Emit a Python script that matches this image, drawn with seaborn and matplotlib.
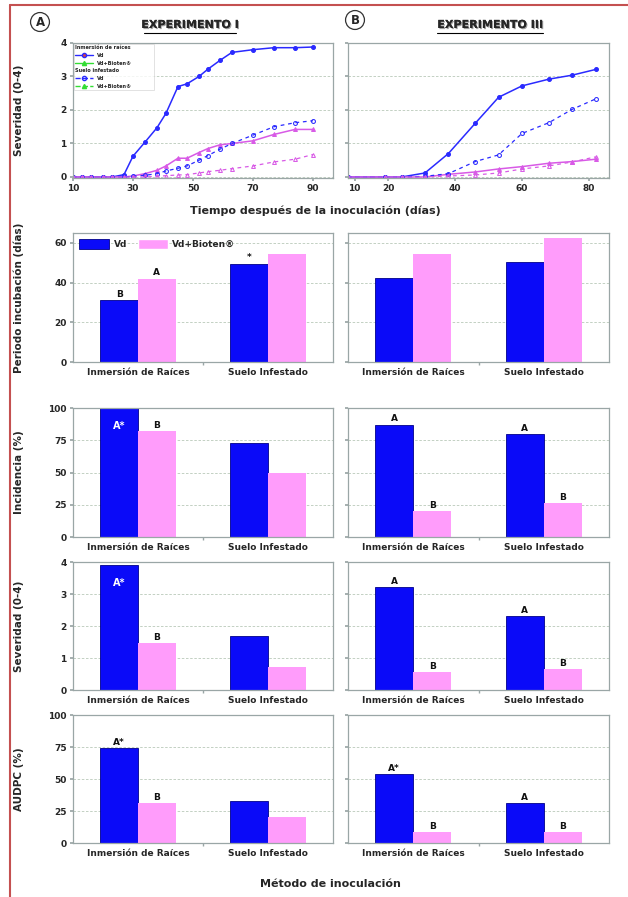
import matplotlib
matplotlib.use("Agg")
import matplotlib.pyplot as plt
import matplotlib.patheffects as pe
from matplotlib.lines import Line2D
from matplotlib.patches import Patch
import seaborn as sns
import pandas as pd

sns.set_theme(style="white")
plt.rcParams['font.family'] = ['DejaVu Sans']
plt.rcParams['font.weight'] = 'bold'

# ---- curvas de severidad (fila 1) ----
dias_I = [10, 13, 16, 20, 23, 27, 30, 34, 38, 41, 45, 48, 52, 55, 59, 63, 70, 77, 84, 90]
raiz_vd_I = [0, 0, 0, 0, 0, 0.07, 0.62, 1.04, 1.47, 1.9, 2.7, 2.78, 3.0, 3.22, 3.48, 3.72, 3.8, 3.86, 3.86, 3.88]
raiz_bt_I = [0, 0, 0, 0, 0, 0, 0.03, 0.1, 0.2, 0.33, 0.56, 0.56, 0.73, 0.85, 0.96, 1.0, 1.08, 1.27, 1.42, 1.42]
suelo_vd_I = [0, 0, 0, 0, 0, 0, 0.02, 0.05, 0.1, 0.18, 0.26, 0.33, 0.5, 0.64, 0.83, 1.0, 1.25, 1.5, 1.62, 1.68]
suelo_bt_I = [0, 0, 0, 0, 0, 0, 0, 0, 0.02, 0.04, 0.06, 0.07, 0.12, 0.16, 0.2, 0.25, 0.33, 0.45, 0.53, 0.67]

dias_III = [8, 19, 24, 31, 38, 46, 53, 60, 68, 75, 82]
raiz_vd_III = [0, 0, 0, 0.12, 0.7, 1.6, 2.38, 2.72, 2.92, 3.04, 3.21]
raiz_bt_III = [0, 0, 0, 0, 0.08, 0.15, 0.24, 0.31, 0.41, 0.46, 0.53]
suelo_vd_III = [0, 0, 0, 0.02, 0.1, 0.46, 0.66, 1.3, 1.62, 2.02, 2.33]
suelo_bt_III = [0, 0, 0, 0, 0.03, 0.06, 0.12, 0.24, 0.33, 0.45, 0.6]

# ---- barras ----
metodos = ["Inmersión de Raíces", "Suelo Infestado"]
tratamientos = ["Vd", "Vd+Bioten®"]

incub_I_vd = [31, 49.5]
incub_I_bt = [42, 54.5]
incub_III_vd = [42.5, 50.5]
incub_III_bt = [54.5, 62.5]

incid_I_vd = [100, 73]
incid_I_bt = [82, 50]
incid_III_vd = [87, 80]
incid_III_bt = [20, 26]

sev_I_vd = [3.9, 1.69]
sev_I_bt = [1.47, 0.72]
sev_III_vd = [3.22, 2.31]
sev_III_bt = [0.56, 0.66]

audpc_I_vd = [74, 33]
audpc_I_bt = [31, 20]
audpc_III_vd = [54, 31]
audpc_III_bt = [8.5, 8.5]

AZUL = "#0a0af8"
ROSA = "#ff9cfb"
MAGENTA = "#d85ae6"
LINEA_AZUL = "#2a2aff"
SPINE = "#9aa6a6"
GRID = "#b9c9b9"
ASTER = "A*"

W, H = 628, 897
fig = plt.figure(figsize=(W / 100, H / 100), dpi=100)


def caja(left, top, right, bottom):
    return fig.add_axes([left / W, 1 - bottom / H, (right - left) / W, (bottom - top) / H])


def estilo(ax, ylim, yticks, etiquetas_y=True):
    ax.set_ylim(*ylim)
    ax.set_yticks(yticks)
    if not etiquetas_y:
        ax.set_yticklabels([])
    for s in ax.spines.values():
        s.set_color(SPINE)
        s.set_linewidth(0.9)
    ax.yaxis.grid(True, linestyle=(0, (3, 2)), color=GRID, linewidth=0.6)
    ax.set_axisbelow(True)
    ax.tick_params(left=True, bottom=True, length=2.5, color=SPINE, labelsize=6.5, pad=2)
    for t in ax.get_xticklabels() + ax.get_yticklabels():
        t.set_fontweight('bold')


def curvas(ax, dias, rv, rb, sv, sb):
    sns.lineplot(x=dias, y=rv, ax=ax, color=LINEA_AZUL, marker='o', markersize=2.8, lw=1.1,
                 markeredgecolor=LINEA_AZUL)
    sns.lineplot(x=dias, y=rb, ax=ax, color=MAGENTA, marker='^', markersize=2.8, lw=1.1,
                 markeredgecolor=MAGENTA)
    sns.lineplot(x=dias, y=sv, ax=ax, color=LINEA_AZUL, marker='o', markersize=2.8, lw=0.9,
                 linestyle=(0, (3, 3)), markerfacecolor='none', markeredgecolor=LINEA_AZUL)
    sns.lineplot(x=dias, y=sb, ax=ax, color=MAGENTA, marker='^', markersize=2.8, lw=0.9,
                 linestyle=(0, (3, 3)), markerfacecolor='none', markeredgecolor=MAGENTA)
    ax.set_xlabel("")
    ax.set_ylabel("")


def barras(ax, vd, bt, ylim, yticks, etiq, etiquetas_y=True):
    df = pd.DataFrame({"metodo": metodos * 2,
                       "trat": [tratamientos[0]] * 2 + [tratamientos[1]] * 2,
                       "valor": vd + bt})
    sns.barplot(data=df, x="metodo", y="valor", hue="trat", palette=[AZUL, ROSA],
                width=0.58, gap=0, errorbar=None, saturation=1, legend=False, ax=ax,
                edgecolor="none")
    for bar in ax.containers[0]:
        bar.set_edgecolor("#00008a")
        bar.set_linewidth(0.6)
    ax.set_xlim(-0.5, 1.5)
    ax.set_xlabel("")
    ax.set_ylabel("")
    estilo(ax, ylim, yticks, etiquetas_y)
    ax.set_xticks([0.5], minor=True)
    ax.tick_params(axis='x', which='major', length=0, pad=4)
    ax.tick_params(axis='x', which='minor', length=2.5, color=SPINE, bottom=True)
    pad = (ylim[1] - ylim[0]) * 0.01
    for cont, labs in zip(ax.containers, etiq):
        for bar, lab in zip(cont, labs):
            if not lab:
                continue
            x = bar.get_x() + bar.get_width() / 2
            h = bar.get_height()
            if lab.startswith("^"):
                ax.text(x, h * 0.86, lab[1:], ha='center', va='center', color='white',
                        fontsize=7, fontweight='bold')
            else:
                ax.text(x, h + pad, lab, ha='center', va='bottom', color='#111111',
                        fontsize=6.5, fontweight='bold')


LX0, LX1 = 73, 333
RX0, RX1 = 348, 609

# fila 1
a1 = caja(LX0, 43, LX1, 178)
curvas(a1, dias_I, raiz_vd_I, raiz_bt_I, suelo_vd_I, suelo_bt_I)
a1.set_xlim(10, 96.7)
a1.set_xticks([10, 30, 50, 70, 90])
estilo(a1, (-0.03, 4), [0, 1, 2, 3, 4])
a1.set_ylabel("Severidad (0-4)", fontsize=7.5, fontweight='bold')
a1.yaxis.set_label_coords(-0.19, 0.5)

hand = [Line2D([], [], color='none'),
        Line2D([], [], color=LINEA_AZUL, marker='o', markerfacecolor='#e04040', markersize=3, lw=1),
        Line2D([], [], color='#33dd33', marker='^', markersize=3, lw=1),
        Line2D([], [], color='none'),
        Line2D([], [], color=LINEA_AZUL, marker='o', markerfacecolor='none', markersize=3, lw=1, ls='--'),
        Line2D([], [], color='#33dd33', marker='^', markersize=3, lw=1, ls='--')]
labs = ["Inmersión de raíces", "Vd", "Vd+Bioten®", "Suelo infestado", "Vd", "Vd+Bioten®"]
leg = a1.legend(hand, labs, loc='upper left', fontsize=3.6, frameon=True, handlelength=3.5,
                borderpad=0.3, labelspacing=0.55, borderaxespad=0.15, fancybox=False)
leg.get_frame().set_edgecolor('#cccccc')
leg.get_frame().set_linewidth(0.5)
for i in (0, 3):
    leg.get_texts()[i].set_position((-22, 0))

a2 = caja(RX0, 43, RX1, 178)
curvas(a2, dias_III, raiz_vd_III, raiz_bt_III, suelo_vd_III, suelo_bt_III)
a2.set_xlim(8, 86)
a2.set_xticks([10, 20, 40, 60, 80])
estilo(a2, (-0.03, 4), [0, 1, 2, 3, 4], etiquetas_y=False)

# fila 2 - periodo de incubacion
b1 = caja(LX0, 233, LX1, 362)
barras(b1, incub_I_vd, incub_I_bt, (0, 65), [0, 20, 40, 60], [["B", "*"], ["A", ""]])
b1.set_ylabel("Periodo incubación (días)", fontsize=7.5, fontweight='bold')
b1.yaxis.set_label_coords(-0.19, 0.5)
b1.legend([Patch(facecolor=AZUL, edgecolor="#00008a", lw=0.6), Patch(facecolor=ROSA)],
          tratamientos, loc='upper left', ncol=2, frameon=False, fontsize=6.5,
          handlelength=3.3, handleheight=1.3, columnspacing=1.2, borderaxespad=0.3,
          handletextpad=0.5)
b2 = caja(RX0, 233, RX1, 362)
barras(b2, incub_III_vd, incub_III_bt, (0, 65), [0, 20, 40, 60], [["", ""], ["", ""]],
       etiquetas_y=False)

# fila 3 - incidencia
c1 = caja(LX0, 408, LX1, 537)
barras(c1, incid_I_vd, incid_I_bt, (0, 100), [0, 25, 50, 75, 100], [["^" + ASTER, ""], ["B", ""]])
c1.set_ylabel("Incidencia (%)", fontsize=7.5, fontweight='bold')
c1.yaxis.set_label_coords(-0.19, 0.5)
c2 = caja(RX0, 408, RX1, 537)
barras(c2, incid_III_vd, incid_III_bt, (0, 100), [0, 25, 50, 75, 100],
       [["A", "A"], ["B", "B"]], etiquetas_y=False)

# fila 4 - severidad
d1 = caja(LX0, 562, LX1, 690)
barras(d1, sev_I_vd, sev_I_bt, (0, 4), [0, 1, 2, 3, 4], [["^" + ASTER, ""], ["B", ""]])
d1.set_ylabel("Severidad (0-4)", fontsize=7.5, fontweight='bold')
d1.yaxis.set_label_coords(-0.19, 0.5)
d2 = caja(RX0, 562, RX1, 690)
barras(d2, sev_III_vd, sev_III_bt, (0, 4), [0, 1, 2, 3, 4],
       [["A", "A"], ["B", "B"]], etiquetas_y=False)

# fila 5 - AUDPC
e1 = caja(LX0, 715, LX1, 843)
barras(e1, audpc_I_vd, audpc_I_bt, (0, 100), [0, 25, 50, 75, 100], [[ASTER, ""], ["B", ""]])
e1.set_ylabel("AUDPC (%)", fontsize=7.5, fontweight='bold')
e1.yaxis.set_label_coords(-0.19, 0.5)
e2 = caja(RX0, 715, RX1, 843)
barras(e2, audpc_III_vd, audpc_III_bt, (0, 100), [0, 25, 50, 75, 100],
       [[ASTER, "A"], ["B", "B"]], etiquetas_y=False)

# textos generales
sombra = [pe.withSimplePatchShadow(offset=(0.8, -0.8), shadow_rgbFace='#888888', alpha=0.8), pe.Normal()]
for x, txt in [(190, "EXPERIMENTO I"), (490, "EXPERIMENTO III")]:
    fig.text(x / W, 1 - 25 / H, txt, ha='center', va='center', fontsize=8,
             fontweight='bold', path_effects=sombra)
fig.add_artist(Line2D([144 / W, 236 / W], [1 - 33 / H, 1 - 33 / H], color='black', lw=0.8))
fig.add_artist(Line2D([437 / W, 543 / W], [1 - 33 / H, 1 - 33 / H], color='black', lw=0.8))

for x, y, letra in [(40, 22, "A"), (355, 20, "B")]:
    fig.text(x / W, 1 - y / H, letra, ha='center', va='center', fontsize=8.5, fontweight='bold',
             bbox=dict(boxstyle='circle,pad=0.25', facecolor='white', edgecolor='#333333', lw=0.9))

fig.text(315 / W, 1 - 211 / H, "Tiempo después de la inoculación (días)", ha='center',
         va='center', fontsize=8, fontweight='bold')
fig.text(330 / W, 1 - 884 / H, "Método de inoculación", ha='center', va='center',
         fontsize=8, fontweight='bold')

# marco rojo
fig.add_artist(Line2D([10 / W, 1], [1 - 5 / H, 1 - 5 / H], color='#c45050', lw=1.5))
fig.add_artist(Line2D([10 / W, 10 / W], [0, 1 - 5 / H], color='#c45050', lw=1.5))

fig.savefig("out.png", dpi=100)
